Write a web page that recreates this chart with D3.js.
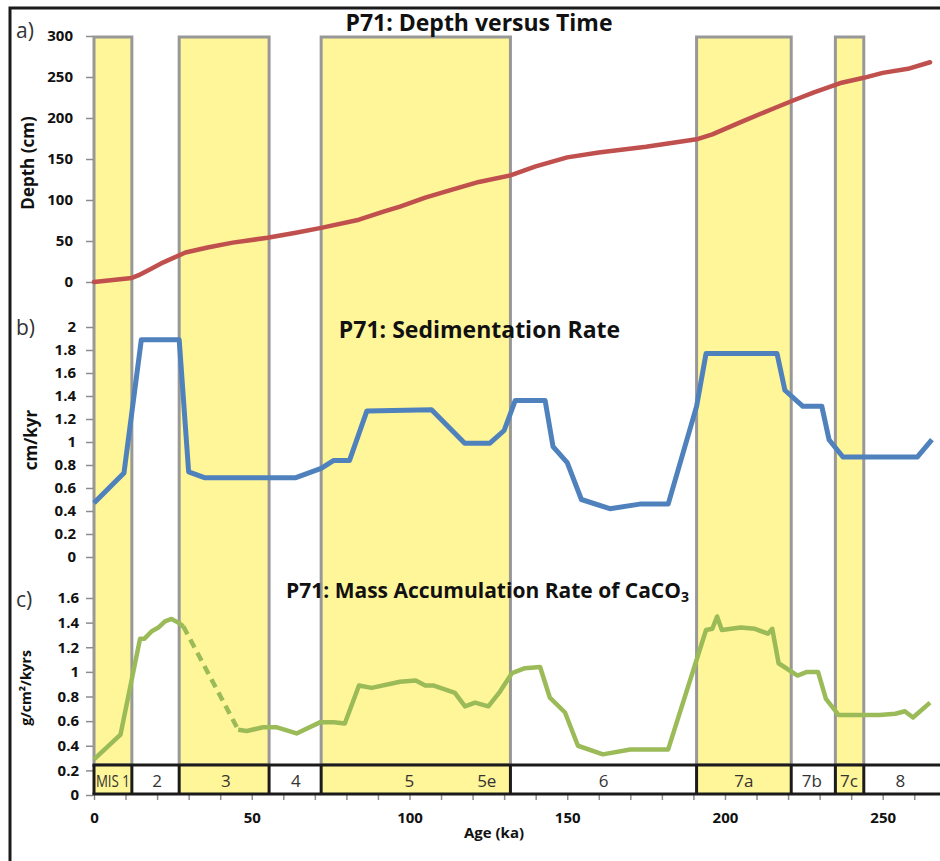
<!DOCTYPE html>
<html>
<head>
<meta charset="utf-8">
<script src="https://cdn.jsdelivr.net/npm/d3@7"></script>
<style>
body { margin: 0; background: #fff; }
text { font-family: "Open Sans", sans-serif; }
.tick text { font-weight: bold; font-size: 15px; fill: #111; }
.tick line { stroke: #8c8c8c; stroke-width: 1.5; }
.title { font-weight: bold; font-size: 23px; fill: #111; }
.ytitle { font-weight: bold; fill: #111; }
.panel { font-size: 21px; fill: #333; }
.mis { font-size: 17px; fill: #333; }
</style>
</head>
<body>
<div id="chart"></div>
<script>

// marine isotope stages (ka)
var misStart = [0, 12, 27, 55.5, 72, 132, 191, 221, 235, 244];
var misEnd   = [12, 27, 55.5, 72, 132, 191, 221, 235, 244, 268];
var misWarm  = [true, false, true, false, true, false, true, false, true, false];
var misText    = ["MIS 1", "2", "3", "4", "5", "5e", "6", "7a", "7b", "7c", "8"];
var misTextAge = [6, 20, 41.8, 64, 100, 124.5, 161.5, 206, 227.5, 239.3, 255.6];

// a) depth versus time
var ageA   = [0, 12, 14, 18, 22, 29, 36, 44, 55, 64, 72, 84, 92, 97, 105, 113, 122, 132, 140, 150, 160, 175, 191, 196, 205, 215, 222, 228, 237, 244, 250, 258, 265];
var depthA = [0, 5, 8, 16, 24, 36, 42, 48, 54, 60, 66, 76, 86, 92, 103, 112, 122, 130, 141, 152, 158, 165, 174, 180, 195, 211, 222, 231, 243, 249, 255, 260, 268];

// b) sedimentation rate
var ageB = [0, 9.5, 15, 27, 30, 35, 64, 72, 76, 81, 86.5, 107, 117.5, 125.5, 130, 133.5, 143, 145.5, 150, 154.5, 163.5, 173, 182, 191, 194, 216.5, 219, 224.7, 230.7, 233, 237.4, 261, 265.6];
var sedB = [0.47, 0.73, 1.89, 1.89, 0.74, 0.69, 0.69, 0.77, 0.84, 0.84, 1.27, 1.28, 0.99, 0.99, 1.1, 1.36, 1.36, 0.96, 0.82, 0.5, 0.42, 0.46, 0.46, 1.31, 1.77, 1.77, 1.45, 1.31, 1.31, 1.02, 0.87, 0.87, 1.02];

// c) mass accumulation rate of CaCO3 (dashed between gapStart and gapEnd)
var ageC = [0, 8.4, 14.6, 16, 18.3, 20.4, 22.5, 24.6, 26.7, 28.3, 45.7, 48.4, 53.6, 58, 64.2, 71.6, 76, 79.5, 84, 88, 97, 102, 105, 107.5, 114.4, 117.6, 120.8, 125, 128.7, 132.5, 136.6, 141.4, 144.5, 149.3, 153.4, 161.3, 170, 182, 194, 196, 197.5, 199, 205, 209.5, 213.6, 215, 217, 223, 226, 229.5, 232, 236, 249, 254, 257, 259.6, 265];
var marC = [0.29, 0.49, 1.27, 1.27, 1.33, 1.36, 1.41, 1.43, 1.4, 1.37, 0.53, 0.52, 0.55, 0.55, 0.5, 0.59, 0.59, 0.58, 0.89, 0.87, 0.92, 0.93, 0.89, 0.89, 0.83, 0.72, 0.75, 0.72, 0.84, 0.99, 1.03, 1.04, 0.79, 0.67, 0.4, 0.33, 0.37, 0.37, 1.34, 1.35, 1.45, 1.34, 1.36, 1.35, 1.31, 1.35, 1.07, 0.97, 1.0, 1.0, 0.78, 0.65, 0.65, 0.66, 0.68, 0.63, 0.75];
var gapStart = 28.3, gapEnd = 45.7;

var depthTicks = [0, 50, 100, 150, 200, 250, 300];
var sedTicks = [0, 0.2, 0.4, 0.6, 0.8, 1, 1.2, 1.4, 1.6, 1.8, 2];
var marTicks = [0, 0.2, 0.4, 0.6, 0.8, 1, 1.2, 1.4, 1.6];
var ageTicks = [0, 10, 20, 30, 40, 50, 60, 70, 80, 90, 100, 110, 120, 130, 140, 150, 160, 170, 180, 190, 200, 210, 220, 230, 240, 250, 260];

var svg = d3.select("#chart")
  .append("svg")
    .attr("width", 940)
    .attr("height", 861);

// scales
var x = d3.scaleLinear().domain([0, 268]).range([94, 939.5]);
var ya = d3.scaleLinear().domain([0, 300]).range([282, 36]);
var yb = d3.scaleLinear().domain([0, 2]).range([557, 327]);
var yc = d3.scaleLinear().domain([0, 1.6]).range([795, 598]);

var barTop = 765, barBot = 794;

// outer frame
svg.append("path")
  .attr("d", "M10,861V8H940")
  .attr("fill", "none")
  .attr("stroke", "#1b1b1b")
  .attr("stroke-width", 3);

var stages = misStart.map(function(s, i) {
  return {start: s, end: misEnd[i], warm: misWarm[i]};
});

// yellow columns for warm stages
svg.selectAll(".col")
  .data(stages.filter(function(d) { return d.warm; }))
  .enter()
  .append("rect")
    .attr("class", "col")
    .attr("x", function(d) { return x(d.start); })
    .attr("y", 37)
    .attr("width", function(d) { return x(d.end) - x(d.start); })
    .attr("height", barTop - 37)
    .attr("fill", "#fff599")
    .attr("stroke", "#989898")
    .attr("stroke-width", 3);

// axes
function yAxis(scale, ticks, pad) {
  return d3.axisLeft(scale).tickValues(ticks).tickSize(7).tickPadding(pad)
    .tickFormat(function(d) { return d; });
}
svg.append("g").attr("transform", "translate(93,0)").call(yAxis(ya, depthTicks, 13))
  .select(".domain").remove();
svg.append("g").attr("transform", "translate(93,0)").call(yAxis(yb, sedTicks, 10))
  .select(".domain").remove();
svg.append("g").attr("transform", "translate(93,0)").call(yAxis(yc, marTicks, 7))
  .select(".domain").remove();

var xAxis = svg.append("g")
  .attr("transform", "translate(0,795)")
  .call(d3.axisBottom(x).tickValues(ageTicks).tickSize(5).tickPadding(12)
    .tickFormat(function(d) { return d % 50 === 0 ? d : ""; }));
xAxis.select(".domain").remove();

// lines
var lineA = d3.line().x(function(d) { return x(d[0]); }).y(function(d) { return ya(d[1]); });
var lineB = d3.line().x(function(d) { return x(d[0]); }).y(function(d) { return yb(d[1]); });
var lineC = d3.line().x(function(d) { return x(d[0]); }).y(function(d) { return yc(d[1]); });

svg.append("path")
  .attr("d", lineA(d3.zip(ageA, depthA)))
  .attr("fill", "none").attr("stroke", "#c0504d").attr("stroke-width", 4.5)
  .attr("stroke-linejoin", "round").attr("stroke-linecap", "round");

svg.append("path")
  .attr("d", lineB(d3.zip(ageB, sedB)))
  .attr("fill", "none").attr("stroke", "#4f81bd").attr("stroke-width", 5)
  .attr("stroke-linejoin", "round");

var pc = d3.zip(ageC, marC);
svg.append("path")
  .attr("d", lineC(pc.filter(function(d) { return d[0] <= gapStart; })))
  .attr("fill", "none").attr("stroke", "#9bbb59").attr("stroke-width", 4.5)
  .attr("stroke-linejoin", "round");
svg.append("path")
  .attr("d", lineC(pc.filter(function(d) { return d[0] >= gapStart && d[0] <= gapEnd; })))
  .attr("fill", "none").attr("stroke", "#9bbb59").attr("stroke-width", 4.5)
  .attr("stroke-dasharray", "9,6");
svg.append("path")
  .attr("d", lineC(pc.filter(function(d) { return d[0] >= gapEnd; })))
  .attr("fill", "none").attr("stroke", "#9bbb59").attr("stroke-width", 4.5)
  .attr("stroke-linejoin", "round");

// MIS bar
svg.selectAll(".cell")
  .data(stages)
  .enter()
  .append("rect")
    .attr("class", "cell")
    .attr("x", function(d) { return x(d.start); })
    .attr("y", barTop)
    .attr("width", function(d) { return x(d.end) - x(d.start); })
    .attr("height", barBot - barTop)
    .attr("fill", function(d) { return d.warm ? "#fff599" : "#fff"; });

svg.append("line").attr("x1", x(0) - 1.5).attr("x2", 940).attr("y1", barTop).attr("y2", barTop)
  .attr("stroke", "#1b1b1b").attr("stroke-width", 3);
svg.append("line").attr("x1", x(0) - 1.5).attr("x2", 940).attr("y1", barBot).attr("y2", barBot)
  .attr("stroke", "#1b1b1b").attr("stroke-width", 3);
svg.selectAll(".div")
  .data(misStart)
  .enter()
  .append("line")
    .attr("x1", function(d) { return x(d); })
    .attr("x2", function(d) { return x(d); })
    .attr("y1", barTop).attr("y2", barBot)
    .attr("stroke", "#1b1b1b").attr("stroke-width", 3);

svg.selectAll(".mis")
  .data(misText)
  .enter()
  .append("text")
    .attr("class", "mis")
    .attr("x", function(d, i) { return x(misTextAge[i]); })
    .attr("y", 787)
    .attr("text-anchor", "middle")
    .attr("textLength", function(d) { return d === "MIS 1" ? 34 : null; })
    .attr("lengthAdjust", "spacingAndGlyphs")
    .text(function(d) { return d; });

// titles
svg.append("text").attr("class", "title").attr("x", 479).attr("y", 31)
  .attr("text-anchor", "middle").text("P71: Depth versus Time");
svg.append("text").attr("class", "title").attr("x", 479.5).attr("y", 338)
  .attr("text-anchor", "middle").text("P71: Sedimentation Rate");
var t3 = svg.append("text").attr("class", "title").style("font-size", "21px")
  .attr("x", 286).attr("y", 598);
t3.append("tspan").text("P71: Mass Accumulation Rate of CaCO");
t3.append("tspan").attr("dy", 4).style("font-size", "14px").text("3");

// panel letters
svg.append("text").attr("class", "panel").attr("x", 16).attr("y", 38).text("a)");
svg.append("text").attr("class", "panel").attr("x", 16).attr("y", 335).text("b)");
svg.append("text").attr("class", "panel").attr("x", 16).attr("y", 607).text("c)");

// axis titles
svg.append("text").attr("class", "ytitle").style("font-size", "17px")
  .attr("transform", "translate(34,163) rotate(-90)").attr("text-anchor", "middle").text("Depth (cm)");
svg.append("text").attr("class", "ytitle").style("font-size", "17px")
  .attr("transform", "translate(37,440) rotate(-90)").attr("text-anchor", "middle").text("cm/kyr");
svg.append("text").attr("class", "ytitle").style("font-size", "14px")
  .attr("transform", "translate(31,688) rotate(-90)").attr("text-anchor", "middle").text("g/cm²/kyrs");
svg.append("text").attr("class", "ytitle").style("font-size", "15px")
  .attr("x", 494).attr("y", 838).attr("text-anchor", "middle").text("Age (ka)");

</script>
</body>
</html>
